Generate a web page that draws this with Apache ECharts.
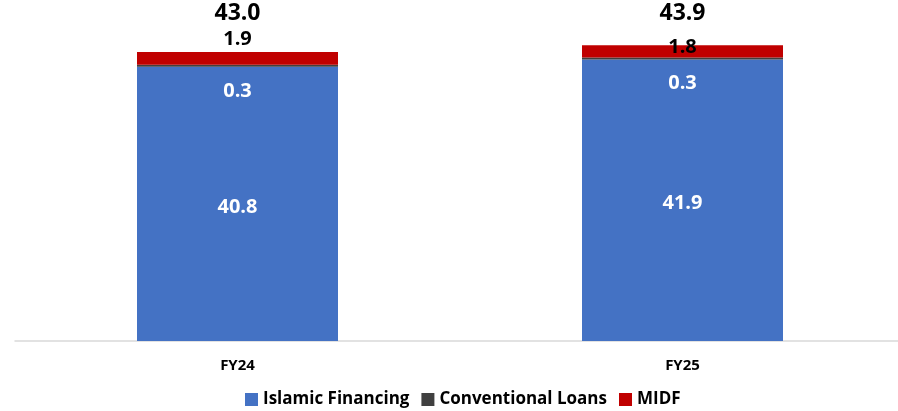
<!DOCTYPE html>
<html>
<head>
<meta charset="utf-8">
<script src="https://cdn.jsdelivr.net/npm/echarts@6/dist/echarts.min.js"></script>
<style>
  html, body { margin: 0; padding: 0; background: #fff; }
  #chart { width: 898px; height: 411px; }
</style>
</head>
<body>
<div id="chart"></div>
<script>
// Financing mix by fiscal year (RM bn)
const categories = ['FY24', 'FY25'];
const islamicFinancing = [40.8, 41.9];
const conventionalLoans = [0.3, 0.3];
const midf = [1.9, 1.8];
const totals = ['43.0', '43.9'];

// label nudges per bar (pixels)
const midfLabelOffset = [[0, -3], [0, 11.5]];
const totalLabelOffset = [[0, -27], [0, -20.5]];

const FONT = '"Open Sans", "Liberation Sans", sans-serif';

const chart = echarts.init(document.getElementById('chart'), null, { renderer: 'canvas' });

const option = {
  animation: false,
  textStyle: { fontFamily: FONT },
  grid: { left: 15, width: 890, top: 5, bottom: 70, containLabel: false, outerBoundsMode: 'none' },
  legend: {
    data: ['Islamic Financing', 'Conventional Loans', 'MIDF'],
    left: 240,
    top: 386,
    itemWidth: 13,
    itemHeight: 13,
    itemGap: 12,
    icon: 'rect',
    textStyle: { fontFamily: FONT, fontWeight: 'bold', fontSize: 17, color: '#000', padding: [0, 0, 0, 0] }
  },
  xAxis: {
    type: 'category',
    data: categories,
    axisLine: { lineStyle: { color: '#d9d9d9', width: 1.5 } },
    axisTick: { show: false },
    axisLabel: { fontFamily: FONT, fontWeight: 'bold', fontSize: 15, color: '#000', margin: 17 }
  },
  yAxis: {
    type: 'value',
    min: 0,
    max: 50,
    show: false,
    splitLine: { show: false }
  },
  series: [
    {
      name: 'Islamic Financing',
      type: 'bar',
      stack: 'total',
      barWidth: 201,
      data: islamicFinancing,
      itemStyle: { color: '#4472C4' },
      label: {
        show: true,
        position: 'inside',
        offset: [0, 3],
        color: '#fff',
        fontFamily: FONT,
        fontWeight: 'bold',
        fontSize: 20,
        formatter: p => p.value.toFixed(1)
      }
    },
    {
      name: 'Conventional Loans',
      type: 'bar',
      stack: 'total',
      data: conventionalLoans,
      itemStyle: { color: '#404040' },
      label: {
        show: true,
        position: 'bottom',
        distance: 14,
        color: '#fff',
        fontFamily: FONT,
        fontWeight: 'bold',
        fontSize: 20,
        formatter: p => p.value.toFixed(1)
      }
    },
    {
      name: 'MIDF',
      type: 'bar',
      stack: 'total',
      data: midf.map((v, i) => ({ value: v, label: { offset: midfLabelOffset[i] } })),
      itemStyle: { color: '#C00000' },
      label: {
        show: true,
        position: 'top',
        distance: 0,
        color: '#000',
        fontFamily: FONT,
        fontWeight: 'bold',
        fontSize: 20,
        formatter: p => p.value.toFixed(1)
      }
    },
    {
      name: 'Total',
      type: 'bar',
      stack: 'total',
      data: totals.map((t, i) => ({ value: 0, label: { offset: totalLabelOffset[i] } })),
      itemStyle: { color: 'rgba(0,0,0,0)' },
      label: {
        show: true,
        position: 'top',
        distance: 0,
        color: '#000',
        fontFamily: FONT,
        fontWeight: 'bold',
        fontSize: 23,
        formatter: p => totals[p.dataIndex]
      }
    }
  ]
};

chart.setOption(option);
</script>
</body>
</html>
